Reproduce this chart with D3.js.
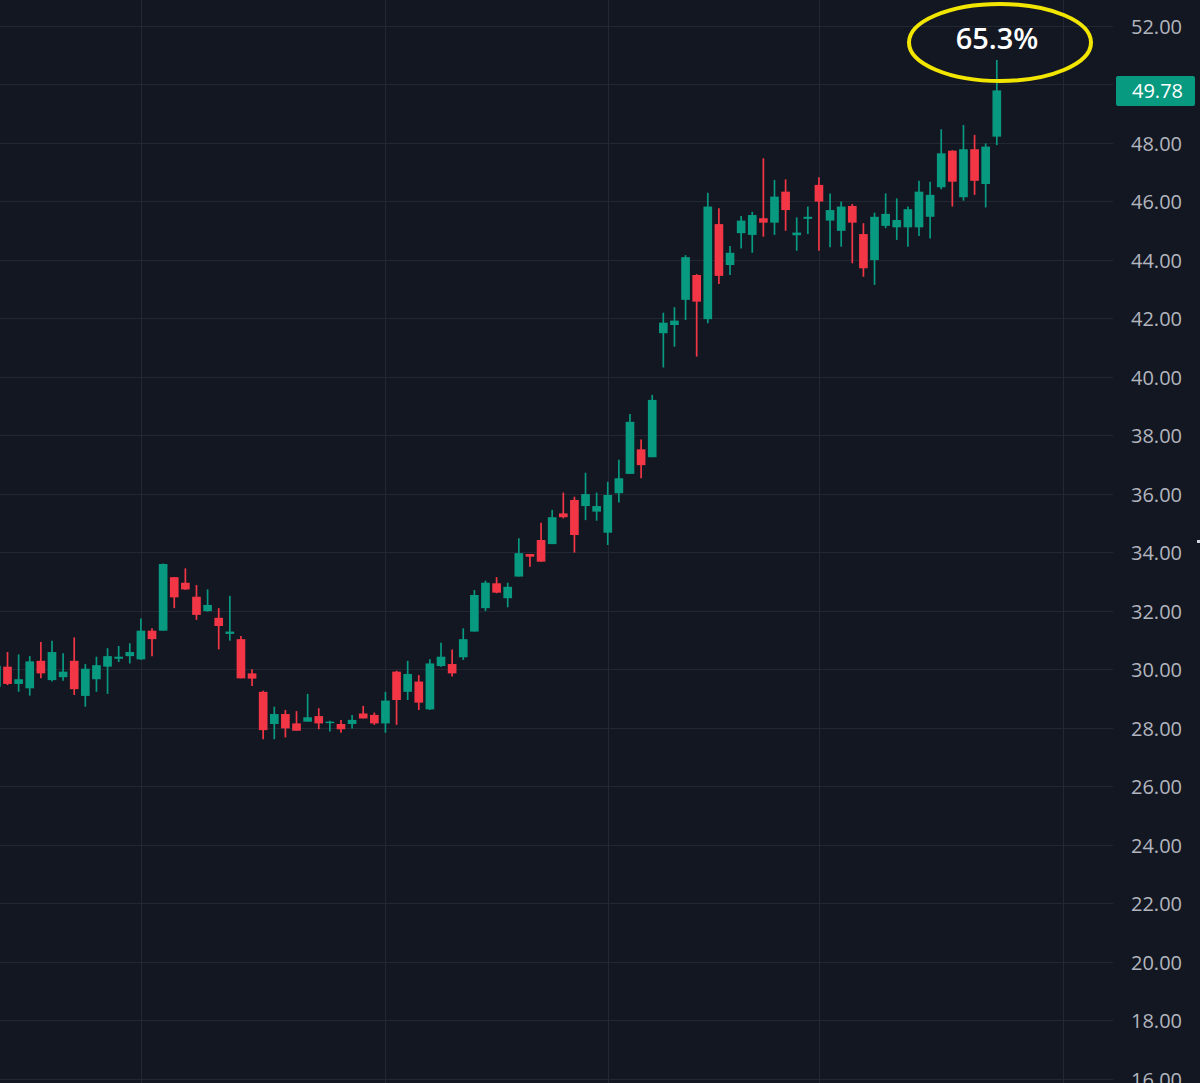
<!DOCTYPE html>
<html>
<head>
<meta charset="utf-8">
<script src="https://cdn.jsdelivr.net/npm/d3@7"></script>
<style>
  html, body { margin: 0; padding: 0; background: #131722; overflow: hidden; }
  svg { display: block; }
</style>
</head>
<body>
<svg id="chart" width="1200" height="1083"></svg>
<script>
// ---- data ----
const opens  = [29.39,30.08,29.49,29.34,30.28,29.62,29.72,30.28,29.08,29.65,30.08,30.35,30.44,30.33,31.31,31.31,33.14,32.95,32.47,31.98,31.75,31.20,31.02,29.85,29.22,28.12,28.46,28.14,28.20,28.39,28.16,28.12,28.12,28.48,28.43,28.14,29.91,29.22,29.57,28.62,30.10,30.17,30.40,31.28,32.08,32.93,32.42,33.16,33.93,34.41,34.27,35.32,35.78,35.57,35.38,34.66,36.01,36.67,37.51,37.24,41.48,41.76,42.62,43.47,41.96,45.21,43.81,44.90,44.84,45.41,45.26,46.32,44.83,45.39,46.55,45.33,44.98,45.83,44.87,43.98,45.15,45.10,45.10,45.10,45.46,46.47,47.72,46.13,47.77,46.58,48.20];
const highs  = [30.40,30.58,30.50,30.44,30.92,30.97,30.54,31.08,30.17,30.42,30.71,30.79,30.88,31.73,31.39,33.61,33.14,33.44,32.87,32.72,32.08,32.50,31.13,29.99,29.26,28.71,28.60,28.56,29.15,28.66,28.23,28.26,28.43,28.74,28.51,29.22,29.94,30.28,29.79,30.33,30.90,30.67,31.39,32.70,33.02,33.14,32.95,34.47,33.93,35.00,35.44,36.03,35.89,36.71,36.03,36.40,37.15,38.72,37.85,39.37,42.18,42.37,44.15,43.50,46.28,45.75,44.46,45.49,45.63,47.46,46.72,46.74,45.44,45.81,46.81,46.26,45.98,45.90,45.24,45.60,46.26,46.09,45.81,46.69,46.66,48.45,47.74,48.60,48.26,47.97,50.82];
const lows   = [29.30,29.45,29.22,29.09,29.68,29.57,29.60,29.11,28.71,29.22,29.15,30.24,30.19,30.31,30.44,31.31,32.08,32.70,31.68,31.96,30.67,30.97,29.68,29.42,27.60,27.60,27.66,27.89,28.20,27.94,27.86,27.82,27.97,28.31,28.09,27.82,28.09,28.94,28.60,28.60,30.08,29.74,30.31,31.28,31.98,32.59,32.11,33.16,33.50,33.67,34.27,35.15,33.98,35.09,35.07,34.24,35.69,36.67,36.52,37.24,40.31,41.02,41.93,40.68,41.82,43.16,43.47,44.38,44.23,44.78,44.84,44.98,44.30,44.87,44.30,44.42,44.44,43.87,43.41,43.13,45.07,44.67,44.44,44.80,44.72,46.40,45.81,46.01,46.21,45.78,47.91];
const closes = [30.11,29.49,29.65,30.26,29.85,30.58,29.91,29.31,30.01,30.13,30.44,30.42,30.58,31.31,31.02,33.59,32.45,32.72,31.85,32.19,31.47,31.28,29.68,29.67,27.91,28.46,27.97,27.89,28.35,28.14,28.20,27.94,28.26,28.31,28.14,28.92,28.94,29.83,28.85,30.19,30.42,29.85,31.02,32.53,32.95,32.61,32.81,33.96,33.84,33.67,35.19,35.19,34.58,35.98,35.57,35.95,36.52,38.45,36.97,39.20,41.84,41.91,44.08,42.56,45.81,43.44,44.23,45.33,45.52,45.26,46.15,45.69,44.92,45.46,45.98,45.69,45.81,45.26,43.70,45.46,45.56,45.35,45.72,46.32,46.21,47.63,46.66,47.77,46.69,47.86,49.78];
const gridTicks  = [16,18,20,22,24,26,28,30,32,34,36,38,40,42,44,46,48,50,52];
const labelTicks = [16,18,20,22,24,26,28,30,32,34,36,38,40,42,44,46,48,52]; // 50.00 is hidden by the price badge
const timeMarks = [13, 35, 55, 74, 96];   // bar indices of the vertical time grid
const lastPrice = 49.78;
const annotation = "65.3%";

// ---- layout ----
const W = 1200, H = 1083;
const svg = d3.select("#chart");
const bars = opens.map((o, i) => ({ i, o, h: highs[i], l: lows[i], c: closes[i] }));

const x = d3.scaleLinear().domain([0, 90]).range([-3.6, 996.8]);
const y = d3.scaleLinear().domain([16, 52]).range([1078.5, 25.5]);
const step = x(1) - x(0);
const bodyW = step * 0.78;
const up = "#089981", down = "#f23645";

svg.append("rect").attr("width", W).attr("height", H).attr("fill", "#131722");

// grid
const grid = svg.append("g").attr("stroke", "#232733").attr("stroke-width", 1);
grid.selectAll("line.h").data(gridTicks).join("line").attr("class", "h")
  .attr("x1", 0).attr("x2", 1113)
  .attr("y1", d => Math.round(y(d)) + 0.5).attr("y2", d => Math.round(y(d)) + 0.5);
grid.selectAll("line.v").data(timeMarks).join("line").attr("class", "v")
  .attr("y1", 0).attr("y2", H)
  .attr("x1", d => Math.round(x(d)) + 0.5).attr("x2", d => Math.round(x(d)) + 0.5);

// candles
const cg = svg.append("g");
const cand = cg.selectAll("g.c").data(bars).join("g").attr("class", "c")
  .attr("fill", d => d.c >= d.o ? up : down)
  .attr("stroke", d => d.c >= d.o ? up : down);
cand.append("line")
  .attr("x1", d => x(d.i)).attr("x2", d => x(d.i))
  .attr("y1", d => y(d.h)).attr("y2", d => y(d.l))
  .attr("stroke-width", 1.7);
cand.append("rect")
  .attr("stroke", "none")
  .attr("x", d => x(d.i) - bodyW / 2).attr("width", bodyW)
  .attr("y", d => y(Math.max(d.o, d.c)))
  .attr("height", d => Math.max(1.5, Math.abs(y(d.o) - y(d.c))));

// price axis labels
const axis = d3.axisRight(y).tickValues(labelTicks).tickFormat(d3.format(".2f"))
  .tickSize(0).tickPadding(0);
const ag = svg.append("g").attr("transform", "translate(1131,1.5)").call(axis);
ag.select(".domain").remove();
ag.selectAll("text")
  .attr("fill", "#b2b5be")
  .style("font-family", "'Open Sans', 'Noto Sans', sans-serif")
  .style("font-size", "20px")
  .attr("text-anchor", "start");

// last price badge
svg.append("rect").attr("x", 1116).attr("y", y(lastPrice) - 14.5).attr("width", 79).attr("height", 30)
  .attr("rx", 2).attr("fill", up);
svg.append("text").attr("x", 1132).attr("y", y(lastPrice) + 1).attr("dy", "0.35em")
  .attr("fill", "#ffffff")
  .style("font-family", "'Open Sans', 'Noto Sans', sans-serif").style("font-size", "20px")
  .text(d3.format(".2f")(lastPrice));

// small mark at right edge
svg.append("rect").attr("x", 1197).attr("y", 540).attr("width", 3).attr("height", 3).attr("fill", "#d1d4dc");

// annotation
svg.append("ellipse").attr("cx", 1000).attr("cy", 42.5).attr("rx", 91).attr("ry", 38.5)
  .attr("fill", "none").attr("stroke", "#f2e600").attr("stroke-width", 4);
svg.append("text").attr("x", 997).attr("y", 48.5).attr("text-anchor", "middle")
  .attr("fill", "#ffffff")
  .style("font-family", "'Open Sans', 'Noto Sans', sans-serif").style("font-size", "29px")
  .style("font-weight", "600")
  .text(annotation);
</script>
</body>
</html>
